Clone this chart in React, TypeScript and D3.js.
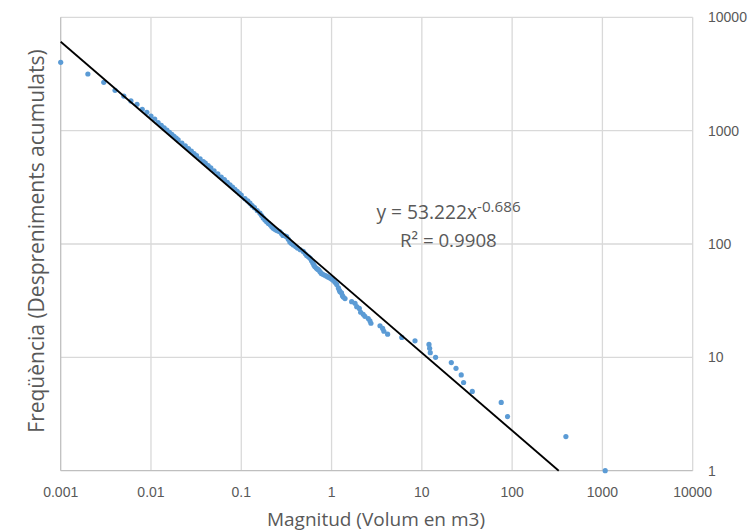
import React from 'react';
import * as d3 from 'd3';

// volum de cada despreniment (m3) i freqüència acumulada
const volums = [
  0.001, 0.002, 0.003, 0.004, 0.005, 0.006, 0.007, 0.008, 0.009, 0.01,
  0.011, 0.012, 0.013, 0.014, 0.015, 0.016, 0.017, 0.018, 0.019, 0.02,
  0.022, 0.024, 0.026, 0.028, 0.03, 0.032, 0.035, 0.038, 0.04, 0.043,
  0.046, 0.05, 0.055, 0.06, 0.065, 0.07, 0.075, 0.08, 0.085, 0.09,
  0.095, 0.1, 0.11, 0.118, 0.125, 0.132, 0.14, 0.15, 0.161, 0.168,
  0.175, 0.183, 0.191, 0.2, 0.21, 0.218, 0.226, 0.235, 0.245, 0.256,
  0.268, 0.28, 0.29, 0.304, 0.318, 0.332, 0.345, 0.36, 0.377, 0.4,
  0.42, 0.45, 0.486, 0.51, 0.53, 0.555, 0.577, 0.6, 0.62, 0.638,
  0.655, 0.68, 0.7, 0.72, 0.745, 0.77, 0.8, 0.84, 0.88, 0.92,
  0.96, 1.0, 1.04, 1.09, 1.14, 1.19, 1.22, 1.24, 1.29, 1.32,
  1.35, 1.41, 1.67, 1.82, 1.9, 2.03, 2.1, 2.24, 2.34, 2.55,
  2.66, 2.73, 3.44, 3.68, 3.8, 4.18, 6.0, 8.4, 12.0, 12.2,
  12.4, 14.2, 21.2, 23.9, 27.3, 29, 36.2, 75.7, 89, 394,
  1074,
];
const despreniments = [
  4010, 3160, 2670, 2270, 2020, 1830, 1710, 1545, 1450, 1345,
  1265, 1180, 1115, 1060, 1010, 967, 928, 892, 860, 829,
  777, 733, 693, 659, 628, 601, 565, 534, 516, 491,
  469, 443, 415, 390, 370, 350, 333, 318, 304, 292,
  280, 270, 251, 240, 229, 218, 209, 197, 187, 178,
  170, 163, 157, 152, 147, 142, 138, 135, 132, 130,
  128, 123, 119, 118, 116, 110, 104, 101, 98, 95,
  92, 89, 86, 82, 79, 77, 75, 71, 68, 65,
  63, 61, 60, 59, 57, 55, 54, 53, 52, 51,
  50, 49, 48, 46, 44, 41, 39, 38, 37, 35,
  34, 33, 31, 30, 28, 27, 25, 24, 23, 22,
  21, 20, 19, 18, 17, 16, 15, 14, 13, 12,
  11, 10, 9, 8, 7, 6, 5, 4, 3, 2,
  1,
];

const xTicks = [0.001, 0.01, 0.1, 1, 10, 100, 1000, 10000];
const xTickLabels = ['0.001', '0.01', '0.1', '1', '10', '100', '1000', '10000'];
const yTicks = [1, 10, 100, 1000, 10000];
const yTickLabels = ['1', '10', '100', '1000', '10000'];

// línia de tendència potencial
const trendA = 53.222;
const trendB = -0.686;
const trendR2 = '0.9908';

const App = () => {
  const width = 750;
  const height = 532;
  const blue = '#5B9BD5';
  const grey = '#595959';
  const grid = '#D9D9D9';
  const axisCol = '#BFBFBF';

  const xScale = d3.scaleLog().domain([0.001, 10000]).range([60.7, 692.7]);
  const yScale = d3.scaleLog().domain([1, 10000]).range([470.7, 17.3]);

  const points = volums.map((v, i) => ({ v, n: despreniments[i] }));

  const xEnd = Math.pow(1 / trendA, 1 / trendB);
  const trend = [0.001, xEnd].map(v => ({ v, n: trendA * Math.pow(v, trendB) }));
  const trendLine = d3
    .line<{ v: number; n: number }>()
    .x(d => xScale(d.v))
    .y(d => yScale(d.n))(trend);

  const [x0, x1] = xScale.range();
  const [y0, y1] = yScale.range();

  return (
    <svg
      width={width}
      height={height}
      style={{ position: 'absolute', left: 0, top: 0, background: '#fff' }}
    >
      <g>
        {xTicks.slice(1).map(t => (
          <line key={`gx-${t}`} x1={xScale(t)} x2={xScale(t)} y1={y1} y2={y0} stroke={grid} strokeWidth={1.3} />
        ))}
        {yTicks.slice(1).map(t => (
          <line key={`gy-${t}`} x1={x0} x2={x1} y1={yScale(t)} y2={yScale(t)} stroke={grid} strokeWidth={1.3} />
        ))}
        <line x1={x0} x2={x0} y1={y1} y2={y0} stroke={axisCol} strokeWidth={1.3} />
        <line x1={x0} x2={x1} y1={y0} y2={y0} stroke={axisCol} strokeWidth={1.3} />
      </g>
      <g>
        {points.map((d, i) => (
          <circle key={`p-${i}`} cx={xScale(d.v)} cy={yScale(d.n)} r={2.6} fill={blue} />
        ))}
      </g>
      <path d={trendLine || ''} fill="none" stroke="#000" strokeWidth={1.8} />
      <g fontFamily="'Liberation Sans', Arial, sans-serif" fontSize={14} fill={grey}>
        {xTicks.map((t, i) => (
          <text key={`tx-${t}`} x={xScale(t)} y={496.5} textAnchor="middle">
            {xTickLabels[i]}
          </text>
        ))}
        {yTicks.map((t, i) => (
          <text key={`ty-${t}`} x={708} y={yScale(t) + 5} textAnchor="start">
            {yTickLabels[i]}
          </text>
        ))}
      </g>
      <g fontFamily="'Open Sans', sans-serif" fill={grey}>
        <text x={376} y={526} fontSize={19} textAnchor="middle">
          Magnitud (Volum en m3)
        </text>
        <text
          transform={`translate(44, 241) rotate(-90)`}
          fontSize={21}
          textAnchor="middle"
        >
          Freqüència (Despreniments acumulats)
        </text>
        <text x={376.5} y={219.3} fontSize={19.2}>
          y = {trendA}x
          <tspan fontSize={15.2} dy={-7.8}>{trendB}</tspan>
        </text>
        <text x={400} y={246.7} fontSize={18.7}>
          R² = {trendR2}
        </text>
      </g>
    </svg>
  );
};

export default App;
